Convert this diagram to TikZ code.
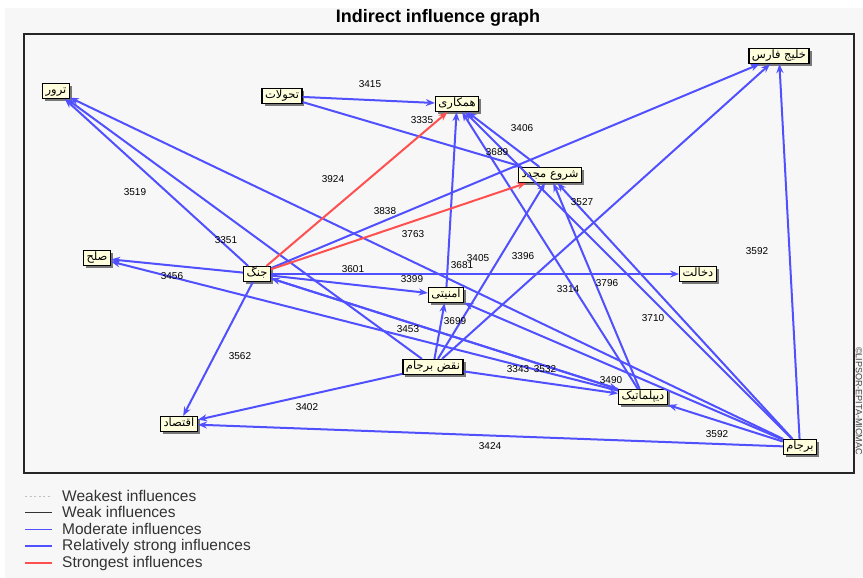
\documentclass[tikz,border=0pt]{standalone}
\usepackage{fontspec}
\setmainfont{Liberation Sans}
\newfontfamily\farsi[Script=Arabic]{DejaVu Sans}
\TeXXeTstate=1
\usetikzlibrary{arrows.meta,shadows}
\definecolor{panel}{RGB}{247,247,247}
\definecolor{boxfill}{RGB}{255,255,222}
\definecolor{inflblue}{RGB}{80,80,255}
\definecolor{inflred}{RGB}{255,80,80}
\tikzset{
  var/.style={draw=black, line width=1.2pt, fill=boxfill, inner xsep=3pt, inner ysep=1.5pt, text height=8.5pt, text depth=3.5pt,
    font=\farsi\fontsize{11.5}{12}\selectfont,
    drop shadow={shadow xshift=2.5pt, shadow yshift=-2.5pt, fill=black!65, opacity=0.8}},
  infl/.style={draw=inflblue, line width=2pt, -{Stealth[length=9pt,width=7pt]}},
  redinfl/.style={infl, draw=inflred},
  val/.style={font=\fontsize{10}{10}\selectfont, inner sep=0pt},
  legtext/.style={font=\fontsize{15.5}{16}\selectfont, text=black!80, anchor=west, inner sep=0pt}
}
\begin{document}
\begin{tikzpicture}[x=1pt,y=-1pt]
	\fill[white] (0,0) rectangle (863,578);
	\fill[panel] (5,8) rectangle (863,578);
	\useasboundingbox (0,0) rectangle (863,578);

	\node[font=\fontsize{18}{20}\selectfont\bfseries] (title) at (438,18) {Indirect influence graph};
	%Frame
	\draw[line width=1.2pt, black!85] (24,34) rectangle (854,473);
	\node[rotate=-90, anchor=west, font=\fontsize{9}{9}\selectfont, text=black!75, inner sep=0pt] (copy) at (859,347) {©LIPSOR-EPITA-MICMAC};

	%Variables
	\node[var] (T) at (56,91) {\beginR ترور\endR};
	\node[var] (H) at (282,96) {\beginR تحولات\endR};
	\node[var] (K) at (457,104) {\beginR همکاری\endR};
	\node[var] (G) at (779,56) {\beginR خلیج فارس\endR};
	\node[var] (S) at (550,175) {\beginR شروع مجدد\endR};
	\node[var] (P) at (97,258) {\beginR صلح\endR};
	\node[var] (J) at (257,274) {\beginR جنگ\endR};
	\node[var] (D) at (698,274) {\beginR دخالت\endR};
	\node[var] (A) at (446,295) {\beginR امنیتی\endR};
	\node[var] (N) at (433,367) {\beginR نقض برجام\endR};
	\node[var] (L) at (643,397) {\beginR دیپلماتیک\endR};
	\node[var] (E) at (179,424) {\beginR اقتصاد\endR};
	\node[var] (B) at (800,447) {\beginR برجام\endR};

	%Relatively strong influences
	\draw[infl] (H) -- (K);
	\draw[infl] (H) -- (S);
	\draw[infl] (J) -- (G);
	\draw[infl] (J) -- (T);
	\draw[infl] (J) -- (P);
	\draw[infl] (J) -- (D);
	\draw[infl] (J) -- (A);
	\draw[infl] (J) -- (E);
	\draw[infl] (J) -- (L);
	\draw[infl] (L) -- (J);
	\draw[infl] (N) -- (T);
	\draw[infl] (N) -- (A);
	\draw[infl] (N) -- (S);
	\draw[infl] (N) -- (G);
	\draw[infl] (N) -- (L);
	\draw[infl] (N) -- (E);
	\draw[infl] (B) -- (G);
	\draw[infl] (B) -- (S);
	\draw[infl] (B) -- (K);
	\draw[infl] (B) -- (T);
	\draw[infl] (B) -- (A);
	\draw[infl] (B) -- (L);
	\draw[infl] (B) -- (E);
	\draw[infl] (L) -- (K);
	\draw[infl] (L) -- (S);
	\draw[infl] (L) -- (P);
	\draw[infl] (A) -- (K);
	\draw[infl] (S) -- (K);
	%Strongest influences
	\draw[redinfl] (J) -- (K);
	\draw[redinfl] (J) -- (S);

	%Values
	\node[val] (v3415) at (370,84) {3415};
	\node[val] (v3335) at (422,120) {3335};
	\node[val] (v3406) at (522,128) {3406};
	\node[val] (v3689) at (497,152) {3689};
	\node[val] (v3924) at (333,179) {3924};
	\node[val] (v3519) at (135,192) {3519};
	\node[val] (v3838) at (385,211) {3838};
	\node[val] (v3763) at (413,234) {3763};
	\node[val] (v3351) at (226,240) {3351};
	\node[val] (v3456) at (172,276) {3456};
	\node[val] (v3601) at (353,269) {3601};
	\node[val] (v3399) at (412,279) {3399};
	\node[val] (v3527) at (582,202) {3527};
	\node[val] (v3405) at (478,258) {3405};
	\node[val] (v3681) at (462,265) {3681};
	\node[val] (v3396) at (523,256) {3396};
	\node[val] (v3592a) at (757,251) {3592};
	\node[val] (v3314) at (568,289) {3314};
	\node[val] (v3796) at (607,283) {3796};
	\node[val] (v3710) at (653,318) {3710};
	\node[val] (v3699) at (455,321) {3699};
	\node[val] (v3453) at (408,329) {3453};
	\node[val] (v3562) at (240,356) {3562};
	\node[val] (v3343) at (518,369) {3343};
	\node[val] (v3532) at (545,369) {3532};
	\node[val] (v3490) at (611,380) {3490};
	\node[val] (v3402) at (307,407) {3402};
	\node[val] (v3592b) at (717,434) {3592};
	\node[val] (v3424) at (490,446) {3424};

	%Legend
	\node[legtext] (lg1) at (62,496) {Weakest influences};
	\node[legtext] (lg2) at (62,512) {Weak influences};
	\node[legtext] (lg3) at (62,529) {Moderate influences};
	\node[legtext] (lg4) at (62,546) {Relatively strong influences};
	\node[legtext] (lg5) at (62,563) {Strongest influences};
	\draw[gray!50, line width=0.7pt, dash pattern=on 2pt off 2.5pt] ([xshift=-37pt]lg1.west) -- ([xshift=-10pt]lg1.west);
	\draw[black!80, line width=0.8pt] ([xshift=-37pt]lg2.west) -- ([xshift=-10pt]lg2.west);
	\draw[inflblue, line width=0.8pt] ([xshift=-37pt]lg3.west) -- ([xshift=-10pt]lg3.west);
	\draw[inflblue, line width=2pt] ([xshift=-37pt]lg4.west) -- ([xshift=-10pt]lg4.west);
	\draw[inflred, line width=2pt] ([xshift=-37pt]lg5.west) -- ([xshift=-10pt]lg5.west);
\end{tikzpicture}
\end{document}
